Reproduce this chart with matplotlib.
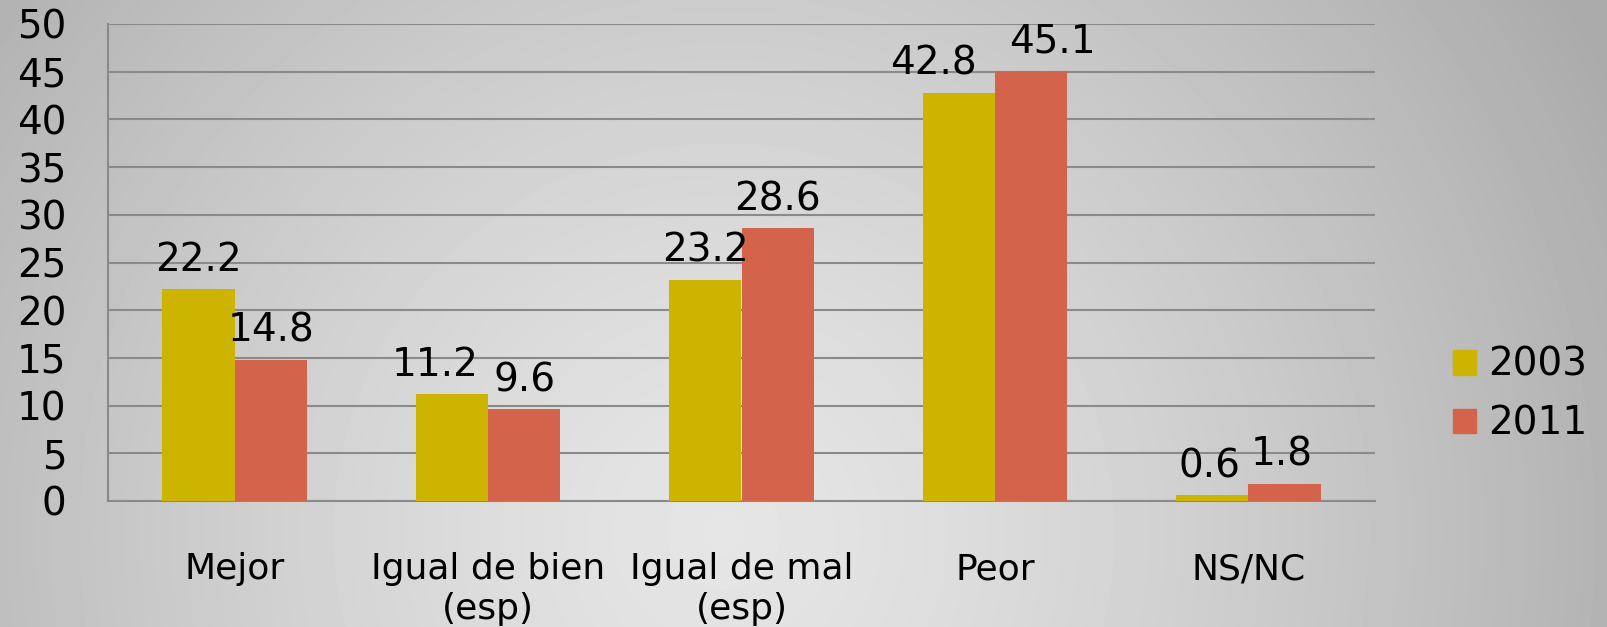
import numpy as np
import matplotlib
matplotlib.use("Agg")
import matplotlib.pyplot as plt
from matplotlib.patches import Patch

categories = ["Mejor", "Igual de bien\n(esp)", "Igual de mal\n(esp)", "Peor", "NS/NC"]
series_names = ["2003", "2011"]
values_2003 = [22.2, 11.2, 23.2, 42.8, 0.6]
values_2011 = [14.8, 9.6, 28.6, 45.1, 1.8]
colors = ["#CDB400", "#D3634A"]
yticks = [0, 5, 10, 15, 20, 25, 30, 35, 40, 45, 50]

# horizontal nudges of data labels (points) to avoid collisions, as in the original
nudge_2003 = [0, -12, 0, -18, -2]
nudge_2011 = [0, 0, 0, 15, -2]

W, H = 1608, 627
fig = plt.figure(figsize=(W / 100, H / 100), dpi=100)

# background radial gradient
bg = fig.add_axes([0, 0, 1, 1], zorder=-10)
yy, xx = np.mgrid[0:H, 0:W]
cx, cy = 0.45 * W, 0.85 * H
r = np.sqrt(((xx - cx) / (0.62 * W)) ** 2 + ((yy - cy) / (0.62 * W)) ** 2)
r = np.clip(r, 0, 1)
inner, outer = 0.90, 0.67
img = inner + (outer - inner) * r ** 1.3
bg.imshow(img, cmap="gray", vmin=0, vmax=1, aspect="auto", interpolation="bilinear")
bg.axis("off")

ax = fig.add_axes([108 / W, 1 - 501 / H, (1375 - 108) / W, (501 - 24) / H])
ax.set_facecolor("none")
x = np.arange(len(categories))
bw = 1 / 3.5
b1 = ax.bar(x - bw / 2, values_2003, bw, color=colors[0], zorder=3)
b2 = ax.bar(x + bw / 2, values_2011, bw, color=colors[1], zorder=3)

for bars, vals, nud in ((b1, values_2003, nudge_2003), (b2, values_2011, nudge_2011)):
    for rect, v, dx in zip(bars, vals, nud):
        ax.annotate(f"{v}", (rect.get_x() + rect.get_width() / 2, v),
                    xytext=(dx, 13), textcoords="offset points",
                    ha="center", va="baseline", fontsize=28, color="black", zorder=5)

ax.set_xlim(-0.5, len(categories) - 0.5)
ax.set_ylim(0, 50)
ax.set_yticks(yticks)
ax.set_yticklabels([str(t) for t in yticks], fontsize=28)
ax.set_xticks(x)
ax.set_xticklabels(categories, fontsize=26)
ax.tick_params(axis="y", length=0, pad=30)
ax.tick_params(axis="x", length=0, pad=37)
ax.grid(axis="y", color="#8a8a8a", linewidth=1.5, zorder=0)
ax.set_axisbelow(True)
for s in ("top", "right"):
    ax.spines[s].set_visible(False)
for s in ("left", "bottom"):
    ax.spines[s].set_color("#8a8a8a")
    ax.spines[s].set_linewidth(1.5)

handles = [Patch(color=c) for c in colors]
fig.legend(handles, series_names, loc="upper left", bbox_to_anchor=(1453 / W, 1 - 346 / H),
           frameon=False, fontsize=28, handlelength=0.6, handleheight=0.6,
           handletextpad=0.3, labelspacing=0.53, borderpad=0, borderaxespad=0)

fig.savefig("out.png", dpi=100)
